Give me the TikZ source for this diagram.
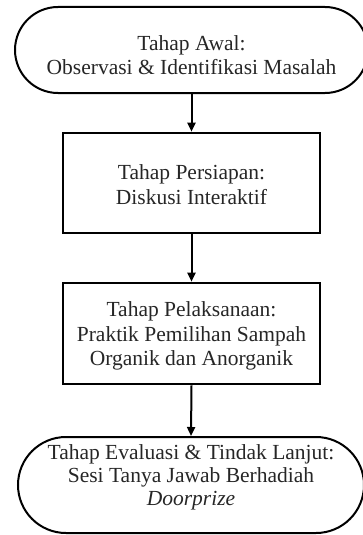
\documentclass[tikz,border=0pt]{standalone}
\usepackage{fontspec}
\setmainfont{Liberation Serif}
\usetikzlibrary{shapes.misc,arrows.meta}
\tikzset{
  term/.style={draw=black, line width=2pt, rounded rectangle, inner sep=0pt},
  stepbox/.style={draw=black, line width=2.6pt, rectangle, inner sep=0pt},
  txt/.style={align=center, font=\fontsize{21.5pt}{24.5pt}\selectfont, inner sep=0pt, text=black!85},
  flow/.style={line width=2pt, -{Triangle[width=8pt,length=9pt]}}
}
\begin{document}
\begin{tikzpicture}[x=1pt,y=1pt]
\useasboundingbox (0,0) rectangle (362,-535);
\node[term, minimum width=353pt, minimum height=86pt] (t1) at (191.5,-50) {};
\node[txt] (t1t) at (191.5,-55) {Tahap Awal:\\Observasi \& Identifikasi Masalah};
\node[stepbox, minimum width=257pt, minimum height=100pt] (b2) at (191.5,-183) {};
\node[txt] (b2t) at (191.5,-184.5) {Tahap Persiapan:\\Diskusi Interaktif};
\node[stepbox, minimum width=257pt, minimum height=101pt] (b3) at (191.5,-333.5) {};
\node[txt] (b3t) at (191.5,-336) {Tahap Pelaksanaan:\\Praktik Pemilihan Sampah\\Organik dan Anorganik};
\node[term, minimum width=346pt, minimum height=96pt] (t4) at (191,-485) {};
\node[txt, font=\fontsize{21.5pt}{23pt}\selectfont] (t4t) at (191,-477.5) {Tahap Evaluasi \& Tindak Lanjut:\\Sesi Tanya Jawab Berhadiah\\\textit{Doorprize}};
\draw[flow] (t1.south) -- (b2.north);
\draw[flow] (b2.south) -- (b3.north);
\draw[flow] (b3.south) -- (t4.north);
\end{tikzpicture}
\end{document}
